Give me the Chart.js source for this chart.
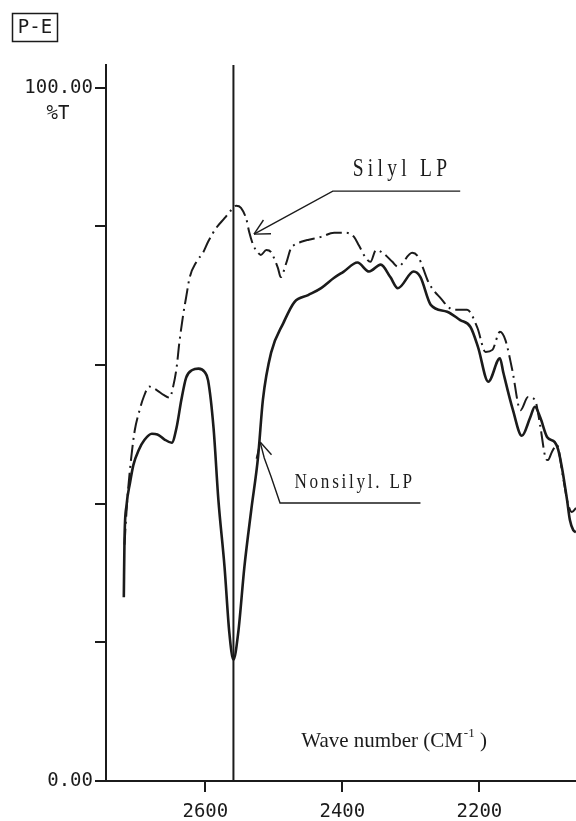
<!DOCTYPE html>
<html>
<head>
<meta charset="utf-8">
<script src="https://cdn.jsdelivr.net/npm/chart.js@4/dist/chart.umd.min.js"></script>
<style>
  html, body { margin: 0; padding: 0; background: #fff; }
  canvas { display: block; }
</style>
</head>
<body>
<canvas id="ir" width="576" height="821"></canvas>
<script>
// wavenumber (cm-1) / transmittance (%T)
const nonsilylWn = [2719, 2718, 2715, 2710, 2705, 2697, 2689, 2678, 2670, 2660, 2649, 2642, 2635, 2628, 2619, 2610, 2601, 2596, 2588, 2581, 2572, 2565, 2559, 2552, 2543, 2533, 2523, 2516, 2504, 2486, 2470, 2450, 2431, 2412, 2398, 2378, 2361, 2344, 2330, 2319, 2296, 2286, 2271, 2247, 2228, 2213, 2202, 2187, 2170, 2165, 2151, 2138, 2126, 2119, 2111, 2101, 2090, 2085, 2079, 2072, 2068, 2063, 2059];
const nonsilylT = [26.5, 34.8, 39.8, 43.0, 45.6, 47.8, 49.2, 50.1, 50.0, 49.3, 48.8, 51.0, 55.0, 58.2, 59.3, 59.5, 59.0, 57.8, 50.9, 40.6, 30.9, 21.4, 17.5, 21.4, 30.9, 39.1, 46.8, 55.0, 61.8, 66.1, 69.1, 70.1, 71.1, 72.6, 73.5, 74.8, 73.5, 74.5, 72.7, 71.1, 73.5, 72.7, 68.7, 67.7, 66.5, 65.5, 62.6, 57.6, 61.0, 58.9, 53.5, 49.8, 52.4, 54.0, 52.4, 49.6, 48.9, 47.8, 44.9, 40.5, 37.7, 36.2, 35.9];

const silylWn = [2718, 2714, 2708, 2703, 2696, 2690, 2682, 2671, 2661, 2652, 2647, 2642, 2638, 2632, 2628, 2623, 2613, 2603, 2596, 2584, 2572, 2562, 2555, 2548, 2540, 2536, 2530, 2523, 2519, 2511, 2504, 2500, 2494, 2490, 2482, 2475, 2471, 2460, 2449, 2431, 2412, 2395, 2383, 2376, 2366, 2359, 2351, 2341, 2327, 2319, 2298, 2289, 2283, 2274, 2257, 2238, 2218, 2203, 2191, 2181, 2170, 2162, 2152, 2140, 2129, 2119, 2111, 2104, 2100, 2094, 2087, 2078, 2071, 2065, 2059];
const silylT = [34.1, 40.5, 46.8, 50.6, 53.5, 55.4, 56.9, 56.4, 55.7, 55.3, 56.9, 59.6, 63.2, 67.5, 69.8, 72.6, 74.9, 76.3, 77.8, 79.8, 81.2, 82.4, 83.0, 82.7, 81.0, 79.2, 77.3, 76.2, 75.9, 76.6, 76.3, 75.5, 74.0, 72.7, 74.7, 76.9, 77.3, 77.8, 78.1, 78.5, 79.1, 79.1, 78.5, 77.3, 75.5, 74.9, 76.6, 76.2, 74.9, 74.2, 76.2, 75.6, 74.2, 71.9, 69.7, 68.0, 68.0, 65.4, 61.9, 62.2, 64.8, 63.6, 59.3, 53.5, 55.4, 55.0, 51.1, 46.8, 46.3, 47.5, 48.5, 43.9, 40.1, 38.8, 39.4];

// S-H marker line
const markerWn = 2559;

const xTicks = [2600, 2400, 2200];
const yTicks = [0, 20, 40, 60, 80, 100];
const yLabels = { 0: "0.00", 100: "100.00" };

// annotation leaders, far end first, arrow tip last
const silylLeader = [[2228, 85.1], [2414, 85.1], [2529, 78.9]];
const nonsilylLeader = [[2286, 40.1], [2491, 40.1], [2504, 43.9], [2514, 46.6], [2520, 48.9]];

const ink = "#1b1b1b";
const monoFont = '"DejaVu Sans Mono", monospace';
const serifFont = '"Liberation Serif", "DejaVu Serif", serif';

const pts = (xs, ys) => xs.map((v, i) => ({ x: v, y: ys[i] }));

const decor = {
  id: "decor",
  afterDraw(chart) {
    const { ctx, scales: { x, y } } = chart;
    const px = (p) => [x.getPixelForValue(p[0]), y.getPixelForValue(p[1])];
    ctx.save();
    ctx.strokeStyle = ink;
    ctx.fillStyle = ink;
    ctx.lineWidth = 1.4;

    [silylLeader, nonsilylLeader].forEach(line => {
      ctx.beginPath();
      line.forEach((p, i) => { const [a, b] = px(p); i ? ctx.lineTo(a, b) : ctx.moveTo(a, b); });
      ctx.stroke();
      const [tx, ty] = px(line[line.length - 1]);
      const [sx, sy] = px(line[line.length - 2]);
      const ang = Math.atan2(sy - ty, sx - tx);
      [-0.48, 0.48].forEach(d => {
        ctx.beginPath();
        ctx.moveTo(tx, ty);
        ctx.lineTo(tx + 17 * Math.cos(ang + d), ty + 17 * Math.sin(ang + d));
        ctx.stroke();
      });
    });

    // condensed serif labels
    const narrow = (txt, p, size, spacing) => {
      const [a, b] = px(p);
      ctx.save();
      ctx.translate(a, b);
      ctx.scale(0.78, 1);
      ctx.font = size + "px " + serifFont;
      ctx.letterSpacing = spacing + "px";
      ctx.textBaseline = "alphabetic";
      ctx.fillText(txt, 0, 0);
      ctx.restore();
    };
    narrow("Silyl LP", [2385, 87.3], 25, 5.5);
    narrow("Nonsilyl. LP", [2470, 42.3], 22, 3.5);

    // axis caption inside the plot
    let [wx, wy] = px([2460, 4.9]);
    ctx.font = "21px " + serifFont;
    ctx.textBaseline = "alphabetic";
    ctx.fillText("Wave number (CM", wx, wy);
    wx += ctx.measureText("Wave number (CM").width + 1;
    ctx.font = "13px " + serifFont;
    ctx.fillText("-1", wx, wy - 10);
    wx += ctx.measureText("-1").width;
    ctx.font = "21px " + serifFont;
    ctx.fillText(" )", wx, wy);

    // %T under the top tick label
    ctx.font = "19px " + monoFont;
    ctx.textAlign = "center";
    ctx.fillText("%T", 58, y.getPixelForValue(100) + 31);

    // P-E tag
    ctx.lineWidth = 1.5;
    ctx.strokeRect(12.5, 13.5, 45, 28);
    ctx.font = "19px " + monoFont;
    ctx.textBaseline = "middle";
    ctx.fillText("P-E", 35, 28);
    ctx.restore();
  }
};

new Chart(document.getElementById("ir"), {
  type: "line",
  data: {
    datasets: [
      {
        label: "Nonsilyl. LP",
        data: pts(nonsilylWn, nonsilylT),
        borderColor: ink,
        borderWidth: 2.6,
        pointRadius: 0,
        cubicInterpolationMode: "monotone"
      },
      {
        label: "Silyl LP",
        data: pts(silylWn, silylT),
        borderColor: ink,
        borderWidth: 2,
        borderDash: [16, 5, 2, 5],
        pointRadius: 0,
        cubicInterpolationMode: "monotone"
      },
      {
        label: "marker",
        data: [{ x: markerWn, y: 0 }, { x: markerWn, y: 103.3 }],
        borderColor: ink,
        borderWidth: 2,
        pointRadius: 0
      }
    ]
  },
  options: {
    responsive: false,
    animation: false,
    layout: { padding: { top: 65, right: 0, left: 0, bottom: 0 } },
    plugins: { legend: { display: false }, tooltip: { enabled: false } },
    scales: {
      x: {
        type: "linear",
        reverse: true,
        min: 2059,
        max: 2745,
        afterBuildTicks: (s) => { s.ticks = xTicks.map(v => ({ value: v })); },
        afterFit: (s) => { s.height = 40; },
        grid: { drawOnChartArea: false, drawTicks: true, tickLength: 11, color: ink, lineWidth: 2 },
        border: { display: true, color: ink, width: 2 },
        ticks: {
          color: ink,
          padding: 9,
          maxRotation: 0,
          font: { family: monoFont, size: 19 },
          callback: (v) => String(v)
        }
      },
      y: {
        min: 0,
        max: 103.3,
        afterBuildTicks: (s) => { s.ticks = yTicks.map(v => ({ value: v })); },
        afterFit: (s) => { s.width = 106; },
        grid: { drawOnChartArea: false, drawTicks: true, tickLength: 11, color: ink, lineWidth: 2 },
        border: { display: true, color: ink, width: 2 },
        ticks: {
          color: ink,
          padding: 2,
          font: { family: monoFont, size: 19 },
          callback: (v) => yLabels[v] || ""
        }
      }
    }
  },
  plugins: [decor]
});
</script>
</body>
</html>
